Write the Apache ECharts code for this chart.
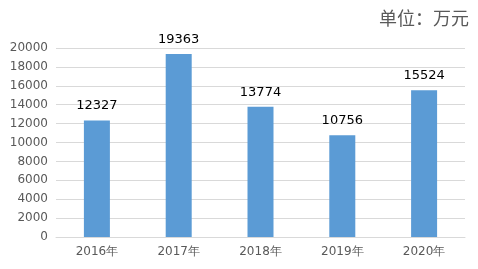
<!DOCTYPE html>
<html><head><meta charset="utf-8">
<script src="https://cdn.jsdelivr.net/npm/echarts@6/dist/echarts.min.js"></script>
<style>html,body{margin:0;padding:0;background:#fff}#c{width:478px;height:269px}</style>
</head><body><div id="c"></div>
<script>
const categories = ['2016年','2017年','2018年','2019年','2020年'];
const values = [12327, 19363, 13774, 10756, 15524];
const unitText = '单位：万元';
const chart = echarts.init(document.getElementById('c'));
chart.setOption({
  animation: false,
  title: { text: unitText, right: 4, top: 4, textStyle: { fontFamily: 'Noto Sans CJK SC', fontSize: 18, fontWeight: 'normal', color: '#595959' } },
  grid: { left: 56, right: 13, top: 48, bottom: 32, containLabel: false },
  xAxis: {
    type: 'category', data: categories,
    axisLine: { lineStyle: { color: '#d9d9d9' } }, axisTick: { show: false },
    axisLabel: { color: '#595959', fontSize: 12, fontFamily: 'DejaVu Sans', margin: 9 }
  },
  yAxis: {
    type: 'value', min: 0, max: 20000, interval: 2000,
    axisLine: { show: false }, axisTick: { show: false },
    splitLine: { lineStyle: { color: '#d9d9d9' } },
    axisLabel: { color: '#595959', fontSize: 12, fontFamily: 'DejaVu Sans', margin: 8, formatter: v => String(v) }
  },
  series: [{
    type: 'bar', data: values, barWidth: 26, itemStyle: { color: '#5B9BD5' },
    label: { show: true, position: 'top', color: '#000', fontSize: 13, fontFamily: 'DejaVu Sans', distance: 8, formatter: p => String(p.value) }
  }]
});
</script></body></html>
